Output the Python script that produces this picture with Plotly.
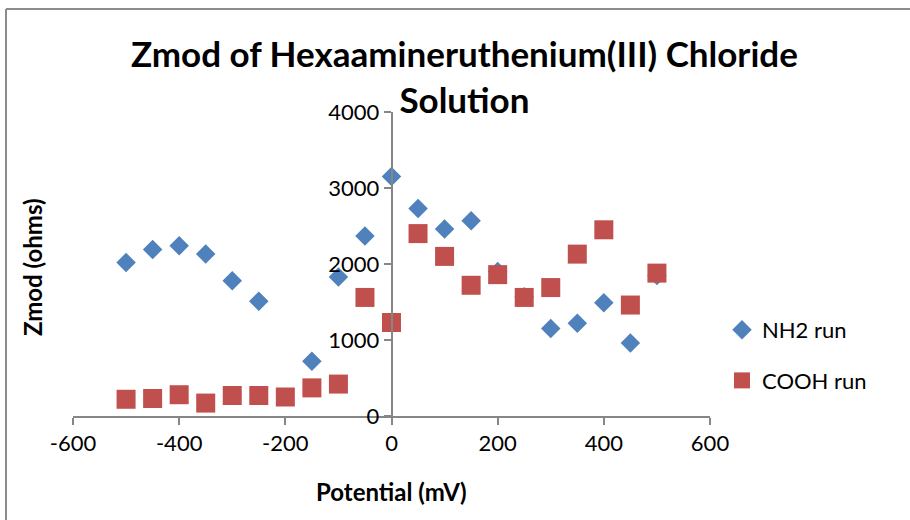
import plotly.graph_objects as go

# Electrode potential (mV)
potential = [-500, -450, -400, -350, -300, -250, -200, -150, -100, -50,
             0, 50, 100, 150, 200, 250, 300, 350, 400, 450, 500]

# Impedance modulus (ohms) for each run
nh2_potential = [-500, -450, -400, -350, -300, -250, -150, -100, -50,
                 0, 50, 100, 150, 200, 250, 300, 350, 400, 450, 500]
nh2_zmod = [2020, 2190, 2240, 2130, 1780, 1510, 720, 1830, 2370,
            3150, 2730, 2460, 2570, 1900, 1570, 1150, 1220, 1490, 960, 1850]

cooh_zmod = [220, 230, 280, 170, 270, 270, 250, 370, 420, 1560,
             1230, 2400, 2100, 1720, 1860, 1560, 1690, 2130, 2450, 1460, 1880]

x_ticks = [-600, -400, -200, 0, 200, 400, 600]
x_tick_text = ["-600", "-400", "-200", "0", "200", "400", "600"]
y_ticks = [0, 1000, 2000, 3000, 4000]
y_tick_text = ["0", "1000", "2000", "3000", "4000"]

BLUE = "#4F81BD"
RED = "#C0504D"
AXIS = "#868686"
FONT = "Lato"

fig = go.Figure()
fig.add_trace(go.Scatter(
    x=nh2_potential, y=nh2_zmod, mode="markers", name="NH2 run",
    legendgroup="a",
    marker=dict(symbol="diamond", size=15, color=BLUE, line=dict(width=0)),
))
fig.add_trace(go.Scatter(
    x=potential, y=cooh_zmod, mode="markers", name="COOH run",
    legendgroup="b",
    marker=dict(symbol="square", size=19, color=RED, line=dict(width=0)),
))

# Plot area geometry in pixels (for placing the frame and labels)
L, R, T, B = 73, 200, 112, 104
W, H = 910, 520
pw, ph = W - L - R, H - T - B


def px_x(px):
    return (px - L) / pw


def px_y(py):
    return (H - B - py) / ph


fig.update_layout(
    width=W, height=H,
    margin=dict(l=L, r=R, t=T, b=B),
    paper_bgcolor="white", plot_bgcolor="white",
    font=dict(family=FONT, color="black"),
    xaxis=dict(
        range=[-600, 600], tickvals=x_ticks, ticktext=x_tick_text,
        showgrid=False, zeroline=False,
        showline=True, linecolor=AXIS, linewidth=1.5,
        ticks="outside", ticklen=7, tickcolor=AXIS, tickwidth=1.5,
        tickfont=dict(size=22, family=FONT),
    ),
    yaxis=dict(
        range=[0, 4000], tickvals=y_ticks, ticktext=y_tick_text,
        anchor="free", position=0.5, side="left",
        showgrid=False, zeroline=False,
        showline=True, linecolor=AXIS, linewidth=1.5,
        ticks="outside", ticklen=7, tickcolor=AXIS, tickwidth=1.5,
        tickfont=dict(size=22, family=FONT),
    ),
    legend=dict(
        x=px_x(722), y=px_y(309), xanchor="left", yanchor="top",
        font=dict(size=22, family=FONT),
        tracegroupgap=19, bgcolor="rgba(0,0,0,0)",
    ),
    annotations=[
        dict(text="<b>Zmod of Hexaamineruthenium(III) Chloride</b><br><b>Solution</b>",
             xref="paper", yref="paper",
             x=px_x(464), y=px_y(76), xanchor="center", yanchor="middle",
             showarrow=False, font=dict(size=35, family=FONT)),
        dict(text="<b>Potential (mV)</b>", xref="paper", yref="paper",
             x=px_x(392), y=px_y(491), xanchor="center", yanchor="middle",
             showarrow=False, font=dict(size=24, family=FONT)),
        dict(text="<b>Zmod (ohms)</b>", xref="paper", yref="paper",
             x=px_x(32), y=px_y(267), xanchor="center", yanchor="middle",
             textangle=-90, showarrow=False, font=dict(size=24, family=FONT)),
    ],
    shapes=[
        dict(type="line", xref="paper", yref="paper",
             x0=px_x(6), x1=px_x(915), y0=px_y(9), y1=px_y(9),
             line=dict(color="#8C8C8C", width=2)),
        dict(type="line", xref="paper", yref="paper",
             x0=px_x(6), x1=px_x(6), y0=px_y(9), y1=px_y(525),
             line=dict(color="#8C8C8C", width=2)),
    ],
)

fig.write_html("out.html")
